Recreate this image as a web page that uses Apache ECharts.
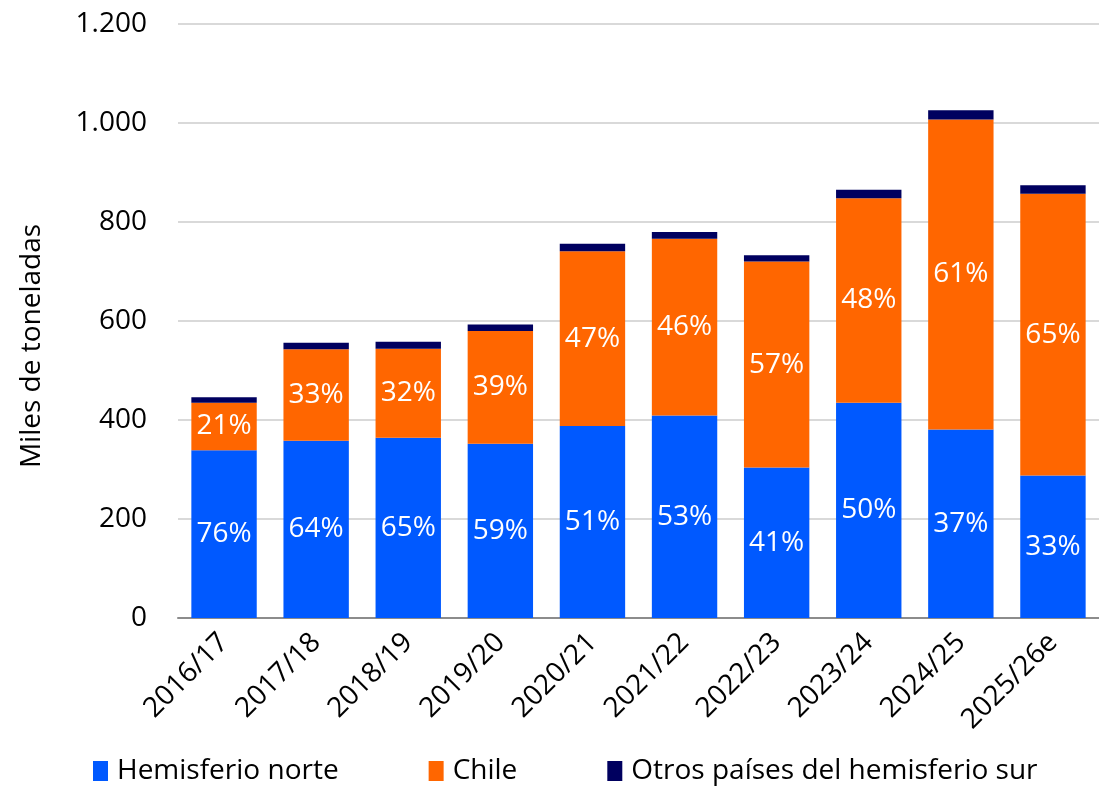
<!DOCTYPE html>
<html>
<head>
<meta charset="utf-8">
<script src="https://cdn.jsdelivr.net/npm/echarts@6/dist/echarts.min.js"></script>
<style>
html,body{margin:0;padding:0;background:#fff;}
#chart{width:1099px;height:786px;}
</style>
</head>
<body>
<div id="chart"></div>
<script>
var categories = ['2016/17','2017/18','2018/19','2019/20','2020/21','2021/22','2022/23','2023/24','2024/25','2025/26e'];
var norte = [339, 358, 364, 352, 388, 409, 304, 435, 381, 288];
var chile = [96, 185, 180, 228, 353, 357, 416, 413, 626, 569];
var otros = [11, 13, 14, 13, 15, 14, 13, 17, 19, 17];
var nortePct = ['76%','64%','65%','59%','51%','53%','41%','50%','37%','33%'];
var chilePct = ['21%','33%','32%','39%','47%','46%','57%','48%','61%','65%'];
var seriesNames = ['Hemisferio norte','Chile','Otros países del hemisferio sur'];
var yAxisName = 'Miles de toneladas';

var FONT = '"Open Sans", sans-serif';
var chart = echarts.init(document.getElementById('chart'), null, {renderer:'canvas'});

function fmtThousands(v){
  return String(v).replace(/\B(?=(\d{3})+(?!\d))/g, '.');
}

var labelStyle = {
  show: true,
  position: 'inside',
  color: '#ffffff',
  fontSize: 28,
  fontFamily: FONT
};

chart.setOption({
  animation: false,
  textStyle: {fontFamily: FONT},
  grid: {left: 178, top: 24, width: 926, height: 594, containLabel: false},
  legend: {
    data: seriesNames,
    left: 88,
    top: 752,
    itemWidth: 15,
    itemHeight: 20,
    itemGap: 90,
    icon: 'rect',
    textStyle: {fontSize: 28, color: '#000', fontFamily: FONT, padding: [0,0,0,4]}
  },
  xAxis: {
    type: 'category',
    data: categories,
    axisTick: {show: false},
    axisLine: {lineStyle: {color: '#8c8c8c', width: 2}},
    axisLabel: {rotate: 45, fontSize: 28, color: '#000', margin: 20, fontFamily: FONT, interval: 0}
  },
  yAxis: {
    type: 'value',
    min: 0,
    max: 1200,
    interval: 200,
    name: yAxisName,
    nameLocation: 'middle',
    nameGap: 132,
    nameTextStyle: {fontSize: 28, color: '#000', fontFamily: FONT, padding: [0, 50, 0, 0]},
    axisLine: {show: false},
    axisTick: {show: false},
    splitLine: {lineStyle: {color: '#d9d9d9', width: 2}},
    axisLabel: {fontSize: 28, color: '#000', margin: 31, fontFamily: FONT, formatter: function(v){return fmtThousands(v);}}
  },
  series: [
    {
      name: seriesNames[0], type: 'bar', stack: 'total', data: norte, barWidth: '71%',
      itemStyle: {color: '#0059ff'},
      label: Object.assign({}, labelStyle, {formatter: function(p){return nortePct[p.dataIndex];}})
    },
    {
      name: seriesNames[1], type: 'bar', stack: 'total', data: chile,
      itemStyle: {color: '#ff6600'},
      label: Object.assign({}, labelStyle, {formatter: function(p){return chilePct[p.dataIndex];}})
    },
    {
      name: seriesNames[2], type: 'bar', stack: 'total', data: otros,
      itemStyle: {color: '#00005f'}
    }
  ]
});
</script>
</body>
</html>
